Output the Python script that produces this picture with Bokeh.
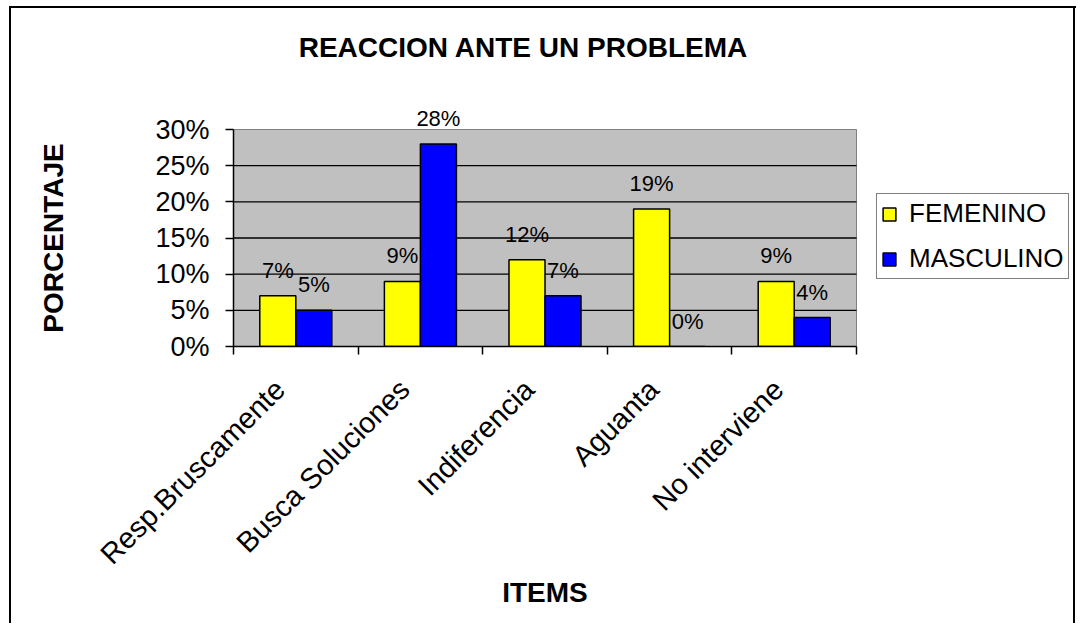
import math
from bokeh.plotting import figure
from bokeh.models import (ColumnDataSource, Range1d, FixedTicker, NumeralTickFormatter,
                          LabelSet, Legend, LegendItem, LinearAxis)
from bokeh.core.properties import value
from bokeh.transform import dodge
from bokeh.embed import file_html
from bokeh.resources import INLINE

# ---- data ----
categories = ["Resp.Bruscamente", "Busca Soluciones", "Indiferencia", "Aguanta", "No interviene"]
femenino = [0.07, 0.09, 0.12, 0.19, 0.09]
masculino = [0.05, 0.28, 0.07, 0.00, 0.04]
y_ticks = [0.0, 0.05, 0.10, 0.15, 0.20, 0.25, 0.30]
series_names = ["FEMENINO", "MASCULINO"]
title_text = "REACCION ANTE UN PROBLEMA"
x_title = "ITEMS"
y_title = "PORCENTAJE"

FONT = "Liberation Sans"

# ---- layout (pixels) ----
W, H = 1076, 623
PLOT_TOP = 129                  # top of the grey plotting area
HEADROOM = 24                   # room above it for value labels
LEFT, RIGHT, TOP, BOTTOM = 233, 2, PLOT_TOP - HEADROOM, 277
PLOT_W, PLOT_H = 623, 217       # size of the grey plotting area
FRAME_W = W - LEFT - RIGHT      # frame also holds the legend on its right
TITLE_CX = 523                  # title centre, px from the left edge

n = len(categories)
px_per_cat = PLOT_W / n
x_end = FRAME_W / px_per_cat
y_lo, y_hi = y_ticks[0], y_ticks[-1]
y_end = y_hi + HEADROOM * (y_hi - y_lo) / PLOT_H
centers = [i + 0.5 for i in range(n)]
boundaries = list(range(n + 1))
label_shift = 0.128
label_pos = [c - label_shift for c in centers]
title_pos = (TITLE_CX - LEFT) / px_per_cat
items_pos = n / 2
ytitle_pos = (y_lo + y_hi) / 2

src = ColumnDataSource(dict(
    x=centers,
    fem=femenino,
    mas=masculino,
    fem_lbl=[f"{round(v * 100)}%" for v in femenino],
    mas_lbl=[f"{round(v * 100)}%" for v in masculino],
))

p = figure(width=W, height=H, output_backend="svg", toolbar_location=None,
           x_range=Range1d(0, x_end), y_range=Range1d(y_lo, y_end))
p.styles = {
    "background": ("linear-gradient(black, black) 9px 6px / 2px 100% no-repeat, "
                   "linear-gradient(black, black) 9px 6px / 100% 2px no-repeat, "
                   "linear-gradient(black, black) 1073px 6px / 2px 100% no-repeat, "
                   "white"),
}
p.min_border_left = LEFT
p.min_border_right = RIGHT
p.min_border_top = TOP
p.min_border_bottom = BOTTOM
p.background_fill_color = None
p.border_fill_color = None
p.outline_line_color = None
p.xgrid.grid_line_color = None
p.ygrid.grid_line_color = None

# grey plotting area + grid lines
p.quad(left=0, right=n, bottom=y_lo, top=y_hi,
       fill_color="#C0C0C0", line_color="#808080", line_width=1)
p.segment(x0=[0] * (len(y_ticks) - 2), x1=[n] * (len(y_ticks) - 2),
          y0=y_ticks[1:-1], y1=y_ticks[1:-1], line_color="black", line_width=1.3)

bw = 0.289
r1 = p.vbar(x=dodge("x", -bw / 2, range=p.x_range), top="fem", width=bw, source=src,
            fill_color="#FFFF00", line_color="black", line_width=1.5)
r2 = p.vbar(x=dodge("x", bw / 2, range=p.x_range), top="mas", width=bw, source=src,
            fill_color="#0000FF", line_color="black", line_width=1.5)

for col, lbl, off in (("fem", "fem_lbl", -bw / 2), ("mas", "mas_lbl", bw / 2)):
    p.add_layout(LabelSet(x=dodge("x", off, range=p.x_range), y=col, text=lbl, source=src,
                          y_offset=18, text_align="center", text_baseline="alphabetic",
                          text_font=value(FONT), text_font_size="22px", text_color="black"))

# category axis
xa = p.xaxis[0]
xa.bounds = (0, n)
xa.ticker = FixedTicker(ticks=label_pos, minor_ticks=boundaries)
xa.major_label_overrides = {c: name for c, name in zip(label_pos, categories)}
xa.major_label_orientation = math.pi / 4
xa.major_tick_line_color = None
xa.minor_tick_line_color = "black"
xa.minor_tick_in = 0
xa.minor_tick_out = 8
xa.minor_tick_line_width = 1.5
xa.axis_line_color = "black"
xa.axis_line_width = 1.5
xa.major_label_text_font = FONT
xa.major_label_text_font_size = "29px"
xa.major_label_text_color = "black"
xa.major_label_standoff = 30

# value axis
ya = p.yaxis[0]
ya.bounds = (y_lo, y_hi)
ya.ticker = FixedTicker(ticks=y_ticks)
ya.formatter = NumeralTickFormatter(format="0%")
ya.minor_tick_line_color = None
ya.major_tick_in = 0
ya.major_tick_out = 8
ya.major_tick_line_color = "black"
ya.major_tick_line_width = 1.5
ya.axis_line_color = "black"
ya.axis_line_width = 1.5
ya.major_label_text_font = FONT
ya.major_label_text_font_size = "27px"
ya.major_label_text_color = "black"
ya.major_label_standoff = 16


def text_axis(location, pos, text, standoff, size="28px", orientation="horizontal"):
    ax = LinearAxis(ticker=FixedTicker(ticks=[pos], minor_ticks=[]),
                    major_label_overrides={pos: text})
    ax.axis_line_color = None
    ax.major_tick_line_color = None
    ax.minor_tick_line_color = None
    ax.major_tick_in = 0
    ax.major_tick_out = 0
    ax.major_label_standoff = standoff
    ax.major_label_orientation = orientation
    ax.major_label_text_font = FONT
    ax.major_label_text_font_size = size
    ax.major_label_text_font_style = "bold"
    ax.major_label_text_color = "black"
    p.add_layout(ax, location)
    return ax


text_axis("below", items_pos, x_title, -8)                       # x-axis title
text_axis("above", title_pos, title_text, 67 - HEADROOM)          # chart title
text_axis("left", ytitle_pos, y_title, 84, orientation="vertical")  # y-axis title

legend = Legend(items=[LegendItem(label=series_names[0], renderers=[r1]),
                       LegendItem(label=series_names[1], renderers=[r2])],
                location=(643, 67), orientation="vertical",
                label_text_font=FONT, label_text_font_size="26px", label_text_color="black",
                glyph_width=16, glyph_height=16, label_standoff=12, padding=4,
                spacing=14, margin=0, border_line_color="black", border_line_width=1.5,
                background_fill_color="white", background_fill_alpha=1.0)
p.add_layout(legend, "center")

open("out.html", "w").write(file_html(p, INLINE))
